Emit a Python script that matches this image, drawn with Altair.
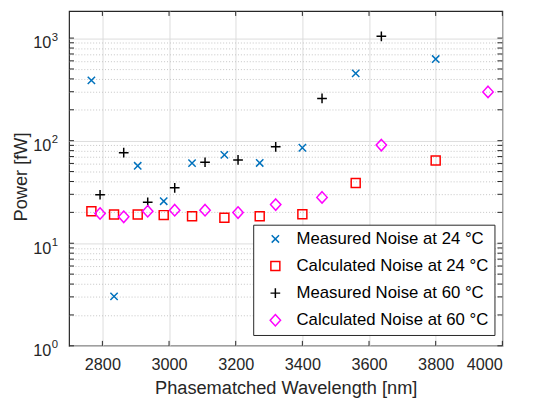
import altair as alt
import pandas as pd

# ---- data ----
series_names = [
    "Measured Noise at 24 °C",
    "Calculated Noise at 24 °C",
    "Measured Noise at 60 °C",
    "Calculated Noise at 60 °C",
]
wl_24 = [2767, 2835, 2906, 2984, 3069, 3166, 3272, 3400, 3560, 3800]
meas_24 = [387, 3.03, 56.9, 25.7, 60.4, 72.6, 60.6, 85.3, 453, 625]
calc_24 = [20.5, 19.1, 19.1, 18.8, 18.3, 17.7, 18.3, 19.2, 38.7, 64.0]
wl_60_meas = [2793, 2864, 2936, 3017, 3108, 3207, 3320, 3459, 3637]
meas_60 = [29.7, 76.4, 25.1, 34.7, 61.6, 64.9, 87.1, 258, 1041]
wl_60_calc = [2793, 2864, 2936, 3017, 3108, 3207, 3320, 3459, 3637, 3957]
calc_60 = [19.5, 18.1, 20.5, 21.0, 21.0, 19.9, 23.8, 28.0, 90.5, 299]

x_ticks = [2800, 3000, 3200, 3400, 3600, 3800, 4000]
y_decades = [1, 10, 100, 1000]
y_exponents = ["0", "1", "2", "3"]

colors = ["#0072BD", "#FF0000", "#000000", "#FF00FF"]
shapes = [
    "M-0.62,-0.62L0.62,0.62M-0.62,0.62L0.62,-0.62",
    "M-0.76,-0.76L0.76,-0.76L0.76,0.76L-0.76,0.76Z",
    "M-0.82,0L0.82,0M0,-0.82L0,0.82",
    "M0,-0.97L0.88,0L0,0.97L-0.88,0Z",
]

rows = []
for name, xs, ys in [
    (series_names[0], wl_24, meas_24),
    (series_names[1], wl_24, calc_24),
    (series_names[2], wl_60_meas, meas_60),
    (series_names[3], wl_60_calc, calc_60),
]:
    for a, b in zip(xs, ys):
        rows.append({"wl": a, "power": b, "series": name})
df = pd.DataFrame(rows)

y_tick_vals = [m * d for d in y_decades for m in range(1, 10) if m * d <= 1837]
xt_df = pd.DataFrame({"t": x_ticks})
yt_df = pd.DataFrame({"t": y_tick_vals})
yl_df = pd.DataFrame({"d": y_decades, "e": y_exponents})

W, H = 440, 340
FONT = "Liberation Sans"
TXT = "#262626"

xscale = alt.Scale(domain=[2700, 4000], nice=False, zero=False)
yscale = alt.Scale(type="log", domain=[1, 1837], nice=False)

major_test = "abs(log(datum.value)/LN10 - round(log(datum.value)/LN10)) < 0.01"

points = alt.Chart(df).mark_point(filled=False, size=144, strokeWidth=1.5, opacity=1).encode(
    x=alt.X(
        "wl:Q",
        scale=xscale,
        axis=alt.Axis(
            values=x_ticks,
            format="d",
            title="Phasematched Wavelength [nm]",
            grid=True,
            gridColor="#dcdcdc",
            ticks=False,
            tickSize=0,
            domain=False,
            labelFont=FONT,
            labelFontSize=16.5,
            labelColor=TXT,
            labelBaseline="alphabetic",
            labelPadding=24,
            titleFont=FONT,
            titleFontSize=18.5,
            titleFontWeight="normal",
            titleColor=TXT,
            titleBaseline="alphabetic",
            titleY=48,
            titleX=W / 2,
        ),
    ),
    y=alt.Y(
        "power:Q",
        scale=yscale,
        axis=alt.Axis(
            values=y_tick_vals,
            labels=False,
            ticks=False,
            tickSize=0,
            domain=False,
            grid=True,
            gridColor={"condition": {"test": major_test, "value": "#dcdcdc"}, "value": "#c4c4c4"},
            gridDash={"condition": {"test": major_test, "value": []}, "value": [1, 2]},
            title="Power [fW]",
            titleFont=FONT,
            titleFontSize=18.5,
            titleFontWeight="normal",
            titleColor=TXT,
            titleAngle=270,
            titleBaseline="alphabetic",
            titleAlign="center",
            titleX=-43.5,
            titleY=168,
        ),
    ),
    color=alt.Color(
        "series:N",
        scale=alt.Scale(domain=series_names, range=colors),
        legend=alt.Legend(
            title=None,
            orient="none",
            legendX=187,
            legendY=217,
            fillColor="white",
            strokeColor="#262626",
            padding=6,
            rowPadding=9.5,
            symbolSize=144,
            symbolStrokeWidth=1.5,
            symbolOffset=8,
            labelOffset=13,
            labelFont=FONT,
            labelFontSize=17,
            labelColor="#000000",
            labelLimit=400,
        ),
    ),
    shape=alt.Shape(
        "series:N",
        scale=alt.Scale(domain=series_names, range=shapes),
    ),
)

tick_color = "#262626"
xt_bottom = alt.Chart(xt_df).mark_rule(color=tick_color, strokeWidth=1).encode(
    x=alt.X("t:Q", scale=xscale, axis=None), y=alt.value(H), y2=alt.value(H - 5)
)
xt_top = alt.Chart(xt_df).mark_rule(color=tick_color, strokeWidth=1).encode(
    x=alt.X("t:Q", scale=xscale, axis=None), y=alt.value(0), y2=alt.value(5)
)
yt_left = alt.Chart(yt_df).mark_rule(color=tick_color, strokeWidth=1).encode(
    y=alt.Y("t:Q", scale=yscale, axis=None), x=alt.value(0), x2=alt.value(5)
)
yt_right = alt.Chart(yt_df).mark_rule(color=tick_color, strokeWidth=1).encode(
    y=alt.Y("t:Q", scale=yscale, axis=None), x=alt.value(W - 5), x2=alt.value(W)
)

ylab_base = alt.Chart(yl_df).mark_text(
    align="right", baseline="alphabetic", dy=10.5, font=FONT, fontSize=16.5, color=TXT
).encode(y=alt.Y("d:Q", scale=yscale, axis=None), x=alt.value(-18), text=alt.value("10"))
ylab_exp = alt.Chart(yl_df).mark_text(
    align="left", baseline="alphabetic", dy=2.5, font=FONT, fontSize=11.5, color=TXT
).encode(y=alt.Y("d:Q", scale=yscale, axis=None), x=alt.value(-17.5), text="e:N")

chart = alt.layer(
    points, xt_bottom, xt_top, yt_left, yt_right, ylab_base, ylab_exp
).resolve_axis(
    x="independent", y="independent"
).properties(
    width=W,
    height=H,
    autosize=alt.AutoSizeParams(type="none"),
    padding={"left": 62, "top": 0, "right": 23, "bottom": 54},
    background="white",
).configure_view(
    stroke="#262626", strokeWidth=1.2
)

chart.save("out.html", embed_options={"renderer": "svg", "actions": False})
